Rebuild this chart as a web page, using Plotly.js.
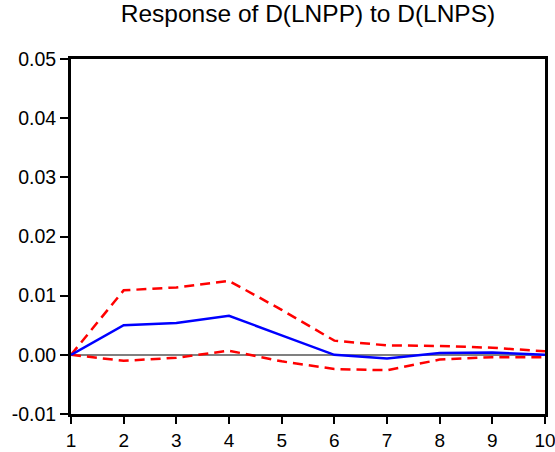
<!DOCTYPE html>
<html>
<head>
<meta charset="utf-8">
<script src="https://cdn.plot.ly/plotly-3.0.1.min.js"></script>
<style>html,body{margin:0;padding:0;background:#fff;}#chart{width:555px;height:452px;}</style>
</head>
<body>
<div id="chart"></div>
<script>
const periods = [1, 2, 3, 4, 5, 6, 7, 8, 9, 10];
const response = [0.0000, 0.0050, 0.0054, 0.0066, 0.0033, 0.0000, -0.0006, 0.0003, 0.0004, 0.0000];
const upperBand = [0.0000, 0.0109, 0.0114, 0.0125, 0.0076, 0.0024, 0.0016, 0.0015, 0.0012, 0.0006];
const lowerBand = [0.0000, -0.0010, -0.0005, 0.0007, -0.0011, -0.0024, -0.0026, -0.0008, -0.0004, -0.0004];
const yTicks = [-0.01, 0.00, 0.01, 0.02, 0.03, 0.04, 0.05];
const titleText = 'Response of D(LNPP) to D(LNPS)';

const fontFam = 'Liberation Sans, Arial, sans-serif';
const traces = [
  {x: periods, y: upperBand, mode: 'lines', line: {color: '#ff0000', width: 2.5, dash: '10px,6px'}, hoverinfo: 'skip'},
  {x: periods, y: lowerBand, mode: 'lines', line: {color: '#ff0000', width: 2.5, dash: '10px,6px'}, hoverinfo: 'skip'},
  {x: periods, y: response, mode: 'lines', line: {color: '#0000ff', width: 2.5}, hoverinfo: 'skip'}
];
const layout = {
  width: 555, height: 452,
  margin: {l: 71, r: 10, t: 59, b: 38, pad: 0},
  paper_bgcolor: '#ffffff', plot_bgcolor: '#ffffff',
  showlegend: false,
  font: {family: fontFam, color: '#000000', size: 19},
  title: {text: titleText, font: {family: fontFam, size: 24.5, color: '#000'}, x: 0.5, xref: 'paper', y: 1 - 13/452, yref: 'container', yanchor: 'middle'},
  xaxis: {
    range: [1, 10], tickmode: 'array', tickvals: periods, ticktext: periods.map(String),
    showgrid: false, zeroline: false, showline: true, mirror: true, linecolor: '#000', linewidth: 3,
    ticks: 'outside', ticklen: 7, tickwidth: 2, tickcolor: '#000', ticklabeloverflow: 'allow',
    tickfont: {family: fontFam, size: 19, color: '#000'}
  },
  yaxis: {
    range: [-0.01, 0.05], tickmode: 'array', tickvals: yTicks, ticktext: yTicks.map(v => v.toFixed(2)),
    showgrid: false, zeroline: true, zerolinecolor: '#808080', zerolinewidth: 1.5,
    showline: true, mirror: true, linecolor: '#000', linewidth: 3,
    ticks: 'outside', ticklen: 8, tickwidth: 2, tickcolor: '#000', ticklabeloverflow: 'allow',
    tickfont: {family: fontFam, size: 19.5, color: '#000'}
  }
};
Plotly.newPlot('chart', traces, layout, {staticPlot: true, displayModeBar: false});
</script>
</body>
</html>
